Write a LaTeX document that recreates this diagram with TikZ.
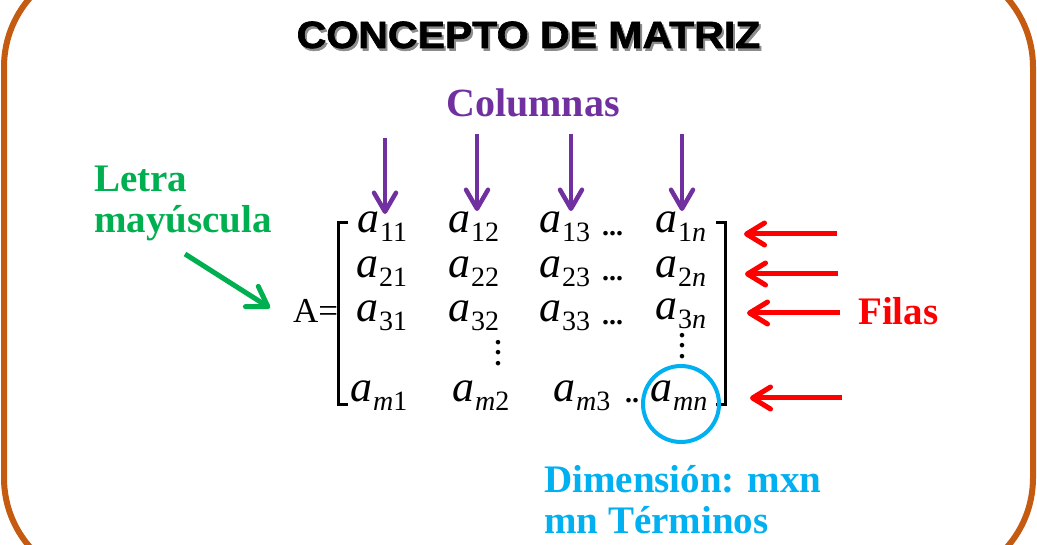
\RequirePackage{fix-cm}
\documentclass[tikz,border=0pt]{standalone}
\usepackage{fontspec}
\newfontfamily\lblfont{Liberation Serif}
\newfontface\ttlfont[FakeBold=1.6]{Liberation Sans Bold}
\usetikzlibrary{arrows.meta}
\definecolor{framecol}{HTML}{C55A11}
\definecolor{purp}{HTML}{7030A0}
\definecolor{grn}{HTML}{00B050}
\definecolor{cyn}{HTML}{00B0F0}
\definecolor{redc}{HTML}{FF0000}
\newcommand\mye[1]{\textit{a}\kern1pt\raisebox{-9pt}{\fontsize{28}{28}\selectfont#1}}
\begin{document}
\begin{tikzpicture}[x=1pt,y=-1pt,
  lbl/.style={anchor=base west, inner sep=0, font=\lblfont\bfseries\fontsize{39}{39}\selectfont},
  ent/.style={anchor=base west, inner sep=0, font=\lblfont\fontsize{44}{44}\selectfont},
  dotsty/.style={anchor=base west, inner sep=0, font=\lblfont\bfseries\fontsize{28}{28}\selectfont},
  vdotsty/.style={inner sep=0, align=center, font=\lblfont\bfseries\fontsize{28}{10.5}\selectfont},
  colarrow/.style={draw=purp, line width=4.5pt, -{Straight Barb[length=19pt,width=22pt,round]}},
  rowarrow/.style={draw=redc, line width=5pt, -{Straight Barb[length=18pt,width=22pt,round]}},
  letarrow/.style={draw=grn, line width=5pt, -{Straight Barb[length=19pt,width=24pt,round]}},
  brk/.style={draw=black, line width=3pt, line join=miter},
  ttl/.style={anchor=base, inner sep=0, xscale=1.08, font=\ttlfont\fontsize{38}{38}\selectfont}
]
\useasboundingbox (0,0) rectangle (1037,545);
\clip (0,0) rectangle (1037,545);
\fill[white] (0,0) rectangle (1037,545);
% frame
\draw[draw=framecol, line width=6pt, rounded corners=105pt] (4,-38) rectangle (1033,583);
% title
\node[ttl, text=black!45] (tshadow) at (530.5,50.5) {CONCEPTO DE MATRIZ};
\node[ttl, text=black] (title) at (528.5,48) {CONCEPTO DE MATRIZ};
% labels
\node[lbl, text=purp, font=\lblfont\bfseries\fontsize{40}{40}\selectfont] (columnas) at (446,117) {Columnas};
\node[lbl, text=grn] (letra) at (94,192) {Letra};
\node[lbl, text=grn] (mayus) at (94,233) {mayúscula};
\node[lbl, text=redc] (filas) at (858,325) {Filas};
\node[lbl, text=cyn] (dim) at (544,492) {Dimensión: mxn};
\node[lbl, text=cyn] (term) at (544,533) {mn Términos};
\node[anchor=base west, inner sep=0, font=\lblfont\fontsize{35}{35}\selectfont] (Aeq) at (293,323) {A=};
% matrix entries
\node[ent] (e11) at (357,233) {\mye{11}};
\node[ent] (e12) at (448,233) {\mye{12}};
\node[ent] (e13) at (539,233) {\mye{13}};
\node[ent] (e1n) at (655,233) {\mye{1\textit{n}}};
\node[ent] (e21) at (356,278) {\mye{21}};
\node[ent] (e22) at (448,278) {\mye{22}};
\node[ent] (e23) at (539,278) {\mye{23}};
\node[ent] (e2n) at (655,278) {\mye{2\textit{n}}};
\node[ent] (e31) at (356,322) {\mye{31}};
\node[ent] (e32) at (448,322) {\mye{32}};
\node[ent] (e33) at (539,322) {\mye{33}};
\node[ent] (e3n) at (655,320) {\mye{3\textit{n}}};
\node[ent] (em1) at (350,402) {\mye{\textit{m}1}};
\node[ent] (em2) at (452,402) {\mye{\textit{m}2}};
\node[ent] (em3) at (553,402) {\mye{\textit{m}3}};
\node[ent] (emn) at (650,402) {\mye{\textit{mn}}};
\node[dotsty] (d1) at (602,236) {...};
\node[dotsty] (d2) at (602,281) {...};
\node[dotsty] (d3) at (602,325) {...};
\node[dotsty] (dm) at (625,403) {..};
\node[vdotsty] (v2) at (498,353) {.\\.\\.};
\node[vdotsty] (vn) at (682,346) {.\\.\\.};
% brackets
\draw[brk] (348,223) -- (338,223) -- (338,405) -- (348,405);
\draw[brk] (716,223) -- (725,223) -- (725,405) -- (716,405);
% circle
\node[draw=cyn, line width=4pt, circle, minimum size=76pt, inner sep=0] (circ) at (681,404) {};
% arrow coordinates
\coordinate (p1a) at (385,138); \coordinate (p1b) at (385,214);
\coordinate (p2a) at (477,134); \coordinate (p2b) at (477,211);
\coordinate (p3a) at (571,134); \coordinate (p3b) at (571,211);
\coordinate (p4a) at (682,134); \coordinate (p4b) at (682,211);
\coordinate (r1a) at (837,234); \coordinate (r1b) at (744,234);
\coordinate (r2a) at (838,274); \coordinate (r2b) at (745,274);
\coordinate (r3a) at (840,313); \coordinate (r3b) at (747,313);
\coordinate (r4a) at (842,398); \coordinate (r4b) at (750,398);
\coordinate (ga) at (185,254); \coordinate (gb) at (270,308);
\draw[colarrow] (p1a) -- (p1b);
\draw[colarrow] (p2a) -- (p2b);
\draw[colarrow] (p3a) -- (p3b);
\draw[colarrow] (p4a) -- (p4b);
\draw[rowarrow] (r1a) -- (r1b);
\draw[rowarrow] (r2a) -- (r2b);
\draw[rowarrow] (r3a) -- (r3b);
\draw[rowarrow] (r4a) -- (r4b);
\draw[letarrow] (ga) -- (gb);
\end{tikzpicture}
\end{document}
